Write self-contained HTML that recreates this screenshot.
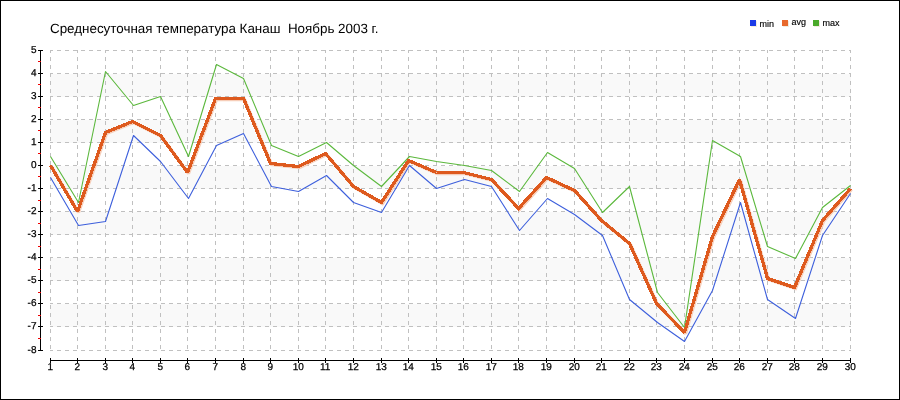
<!DOCTYPE html><html><head><meta charset="utf-8"><style>
html,body{margin:0;padding:0;background:#fff;}
svg{display:block;will-change:transform;}
text{font-family:"Liberation Sans", sans-serif;text-rendering:geometricPrecision;}
</style></head><body>
<svg width="900" height="400" viewBox="0 0 900 400">
<rect x="0" y="0" width="900" height="400" fill="#fff"/>
<rect x="50" y="74.00" width="801" height="23.00" fill="#f9f9f9"/>
<rect x="50" y="120.00" width="801" height="23.00" fill="#f9f9f9"/>
<rect x="50" y="166.00" width="801" height="23.00" fill="#f9f9f9"/>
<rect x="50" y="212.00" width="801" height="23.00" fill="#f9f9f9"/>
<rect x="50" y="258.00" width="801" height="23.00" fill="#f9f9f9"/>
<rect x="50" y="304.00" width="801" height="23.00" fill="#f9f9f9"/>
<path d="M50 350.5H851 M50 326.5H851 M50 303.5H851 M50 280.5H851 M50 257.5H851 M50 234.5H851 M50 211.5H851 M50 188.5H851 M50 165.5H851 M50 142.5H851 M50 119.5H851 M50 96.5H851 M50 73.5H851 M50 50.5H851 M50.5 50V351 M77.5 50V351 M105.5 50V351 M132.5 50V351 M160.5 50V351 M187.5 50V351 M215.5 50V351 M243.5 50V351 M270.5 50V351 M298.5 50V351 M325.5 50V351 M353.5 50V351 M381.5 50V351 M408.5 50V351 M436.5 50V351 M463.5 50V351 M491.5 50V351 M518.5 50V351 M546.5 50V351 M574.5 50V351 M601.5 50V351 M629.5 50V351 M656.5 50V351 M684.5 50V351 M712.5 50V351 M739.5 50V351 M767.5 50V351 M794.5 50V351 M822.5 50V351 M850.5 50V351" stroke="#c0c0c0" stroke-width="1" stroke-dasharray="4 4" stroke-dashoffset="1" fill="none" shape-rendering="crispEdges"/>
<path d="M40.5 50V351" stroke="#000" stroke-width="1"/>
<path d="M38 350.5H43 M38 326.5H43 M38 303.5H43 M38 280.5H43 M38 257.5H43 M38 234.5H43 M38 211.5H43 M38 188.5H43 M38 165.5H43 M38 142.5H43 M38 119.5H43 M38 96.5H43 M38 73.5H43 M38 50.5H43" stroke="#000" stroke-width="1" shape-rendering="crispEdges"/>
<path d="M38 338.5H41 M38 315.5H41 M38 292.5H41 M38 269.5H41 M38 246.5H41 M38 223.5H41 M38 200.5H41 M38 176.5H41 M38 153.5H41 M38 130.5H41 M38 107.5H41 M38 84.5H41 M38 61.5H41" stroke="#e00" stroke-width="1" shape-rendering="crispEdges"/>
<text x="36.5" y="353" font-size="10" text-anchor="end" stroke="#000" stroke-width="0.25">-8</text>
<text x="36.5" y="329" font-size="10" text-anchor="end" stroke="#000" stroke-width="0.25">-7</text>
<text x="36.5" y="306" font-size="10" text-anchor="end" stroke="#000" stroke-width="0.25">-6</text>
<text x="36.5" y="283" font-size="10" text-anchor="end" stroke="#000" stroke-width="0.25">-5</text>
<text x="36.5" y="260" font-size="10" text-anchor="end" stroke="#000" stroke-width="0.25">-4</text>
<text x="36.5" y="237" font-size="10" text-anchor="end" stroke="#000" stroke-width="0.25">-3</text>
<text x="36.5" y="214" font-size="10" text-anchor="end" stroke="#000" stroke-width="0.25">-2</text>
<text x="36.5" y="191" font-size="10" text-anchor="end" stroke="#000" stroke-width="0.25">-1</text>
<text x="36.5" y="168" font-size="10" text-anchor="end" stroke="#000" stroke-width="0.25">0</text>
<text x="36.5" y="145" font-size="10" text-anchor="end" stroke="#000" stroke-width="0.25">1</text>
<text x="36.5" y="122" font-size="10" text-anchor="end" stroke="#000" stroke-width="0.25">2</text>
<text x="36.5" y="99" font-size="10" text-anchor="end" stroke="#000" stroke-width="0.25">3</text>
<text x="36.5" y="76" font-size="10" text-anchor="end" stroke="#000" stroke-width="0.25">4</text>
<text x="36.5" y="53" font-size="10" text-anchor="end" stroke="#000" stroke-width="0.25">5</text>
<path d="M50 360.5H851" stroke="#000" stroke-width="1"/>
<path d="M50.5 358V363 M77.5 358V363 M105.5 358V363 M132.5 358V363 M160.5 358V363 M187.5 358V363 M215.5 358V363 M243.5 358V363 M270.5 358V363 M298.5 358V363 M325.5 358V363 M353.5 358V363 M381.5 358V363 M408.5 358V363 M436.5 358V363 M463.5 358V363 M491.5 358V363 M518.5 358V363 M546.5 358V363 M574.5 358V363 M601.5 358V363 M629.5 358V363 M656.5 358V363 M684.5 358V363 M712.5 358V363 M739.5 358V363 M767.5 358V363 M794.5 358V363 M822.5 358V363 M850.5 358V363" stroke="#000" stroke-width="1" shape-rendering="crispEdges"/>
<text x="50.2" y="370" font-size="10" text-anchor="middle" stroke="#000" stroke-width="0.25">1</text>
<text x="77.2" y="370" font-size="10" text-anchor="middle" stroke="#000" stroke-width="0.25">2</text>
<text x="105.2" y="370" font-size="10" text-anchor="middle" stroke="#000" stroke-width="0.25">3</text>
<text x="132.2" y="370" font-size="10" text-anchor="middle" stroke="#000" stroke-width="0.25">4</text>
<text x="160.2" y="370" font-size="10" text-anchor="middle" stroke="#000" stroke-width="0.25">5</text>
<text x="187.2" y="370" font-size="10" text-anchor="middle" stroke="#000" stroke-width="0.25">6</text>
<text x="215.2" y="370" font-size="10" text-anchor="middle" stroke="#000" stroke-width="0.25">7</text>
<text x="243.2" y="370" font-size="10" text-anchor="middle" stroke="#000" stroke-width="0.25">8</text>
<text x="270.2" y="370" font-size="10" text-anchor="middle" stroke="#000" stroke-width="0.25">9</text>
<text x="298.2" y="370" font-size="10" text-anchor="middle" stroke="#000" stroke-width="0.25">10</text>
<text x="325.2" y="370" font-size="10" text-anchor="middle" stroke="#000" stroke-width="0.25">11</text>
<text x="353.2" y="370" font-size="10" text-anchor="middle" stroke="#000" stroke-width="0.25">12</text>
<text x="381.2" y="370" font-size="10" text-anchor="middle" stroke="#000" stroke-width="0.25">13</text>
<text x="408.2" y="370" font-size="10" text-anchor="middle" stroke="#000" stroke-width="0.25">14</text>
<text x="436.2" y="370" font-size="10" text-anchor="middle" stroke="#000" stroke-width="0.25">15</text>
<text x="463.2" y="370" font-size="10" text-anchor="middle" stroke="#000" stroke-width="0.25">16</text>
<text x="491.2" y="370" font-size="10" text-anchor="middle" stroke="#000" stroke-width="0.25">17</text>
<text x="518.2" y="370" font-size="10" text-anchor="middle" stroke="#000" stroke-width="0.25">18</text>
<text x="546.2" y="370" font-size="10" text-anchor="middle" stroke="#000" stroke-width="0.25">19</text>
<text x="574.2" y="370" font-size="10" text-anchor="middle" stroke="#000" stroke-width="0.25">20</text>
<text x="601.2" y="370" font-size="10" text-anchor="middle" stroke="#000" stroke-width="0.25">21</text>
<text x="629.2" y="370" font-size="10" text-anchor="middle" stroke="#000" stroke-width="0.25">22</text>
<text x="656.2" y="370" font-size="10" text-anchor="middle" stroke="#000" stroke-width="0.25">23</text>
<text x="684.2" y="370" font-size="10" text-anchor="middle" stroke="#000" stroke-width="0.25">24</text>
<text x="712.2" y="370" font-size="10" text-anchor="middle" stroke="#000" stroke-width="0.25">25</text>
<text x="739.2" y="370" font-size="10" text-anchor="middle" stroke="#000" stroke-width="0.25">26</text>
<text x="767.2" y="370" font-size="10" text-anchor="middle" stroke="#000" stroke-width="0.25">27</text>
<text x="794.2" y="370" font-size="10" text-anchor="middle" stroke="#000" stroke-width="0.25">28</text>
<text x="822.2" y="370" font-size="10" text-anchor="middle" stroke="#000" stroke-width="0.25">29</text>
<text x="850.2" y="370" font-size="10" text-anchor="middle" stroke="#000" stroke-width="0.25">30</text>
<polyline points="50.50,165.50 77.50,211.50 105.50,132.50 132.50,121.50 160.50,135.50 187.50,172.50 215.50,98.50 243.50,98.50 270.50,163.50 298.50,166.50 325.50,153.50 353.50,186.50 381.50,202.50 408.50,160.50 436.50,172.50 463.50,172.50 491.50,179.50 518.50,208.50 546.50,177.50 574.50,190.50 601.50,220.50 629.50,243.50 656.50,303.50 684.50,332.50 712.50,236.50 739.50,179.50 767.50,278.50 794.50,287.50 822.50,220.50 850.50,188.50" fill="none" stroke="#f6cdb8" stroke-width="3.3" stroke-linejoin="miter" stroke-miterlimit="1.8" transform="translate(1,1)"/>
<polyline points="50.50,156.50 78.50,202.50 105.50,71.50 133.50,105.50 160.50,96.50 188.50,156.50 216.50,64.50 243.50,78.50 271.50,145.50 298.50,156.50 326.50,142.50 353.50,165.50 381.50,186.50 409.50,156.50 436.50,161.50 464.50,165.50 491.50,170.50 519.50,191.50 547.50,152.50 574.50,168.50 602.50,212.50 629.50,186.50 657.50,292.50 684.50,327.50 712.50,140.50 740.50,156.50 767.50,246.50 795.50,258.50 822.50,207.50 850.50,185.50" fill="none" stroke="#5bb83c" stroke-width="1.1" stroke-linejoin="round"/>
<polyline points="50.50,177.50 78.50,225.50 105.50,221.50 133.50,135.50 160.50,161.50 188.50,198.50 216.50,145.50 243.50,133.50 271.50,186.50 298.50,191.50 326.50,175.50 353.50,202.50 381.50,212.50 409.50,165.50 436.50,188.50 464.50,179.50 491.50,186.50 519.50,230.50 547.50,198.50 574.50,214.50 602.50,235.50 629.50,299.50 657.50,322.50 684.50,341.50 712.50,290.50 740.50,202.50 767.50,299.50 795.50,318.50 822.50,235.50 850.50,193.50" fill="none" stroke="#3d5fdc" stroke-width="1.1" stroke-linejoin="round"/>
<polyline points="50.50,165.50 77.50,211.50 105.50,132.50 132.50,121.50 160.50,135.50 187.50,172.50 215.50,98.50 243.50,98.50 270.50,163.50 298.50,166.50 325.50,153.50 353.50,186.50 381.50,202.50 408.50,160.50 436.50,172.50 463.50,172.50 491.50,179.50 518.50,208.50 546.50,177.50 574.50,190.50 601.50,220.50 629.50,243.50 656.50,303.50 684.50,332.50 712.50,236.50 739.50,179.50 767.50,278.50 794.50,287.50 822.50,220.50 850.50,188.50" fill="none" stroke="#de5a1e" stroke-width="3.3" stroke-linejoin="miter" stroke-miterlimit="1.8" shape-rendering="crispEdges"/>
<text x="50" y="33" font-size="13.4" fill="#000" xml:space="preserve" style="white-space:pre">Среднесуточная температура Канаш  Ноябрь 2003 г.</text>
<rect x="751" y="21" width="6" height="6" fill="#e8e0c8" opacity="0.6"/>
<rect x="750" y="20" width="6" height="6" fill="#1a3ae8"/>
<text x="759.5" y="26.5" font-size="9" stroke="#000" stroke-width="0.15" style="text-rendering:optimizeLegibility">min</text>
<rect x="783" y="21" width="6" height="6" fill="#e8e0c8" opacity="0.6"/>
<rect x="782" y="20" width="6" height="6" fill="#e8692c"/>
<text x="791.5" y="24.5" font-size="9" stroke="#000" stroke-width="0.15" style="text-rendering:optimizeLegibility">avg</text>
<rect x="814" y="21" width="6" height="6" fill="#e8e0c8" opacity="0.6"/>
<rect x="813" y="20" width="6" height="6" fill="#4aaa2a"/>
<text x="822.5" y="25.5" font-size="9" stroke="#000" stroke-width="0.15" style="text-rendering:optimizeLegibility">max</text>
<rect x="0.5" y="0.5" width="899" height="399" fill="none" stroke="#000" stroke-width="1"/>
</svg></body></html>
